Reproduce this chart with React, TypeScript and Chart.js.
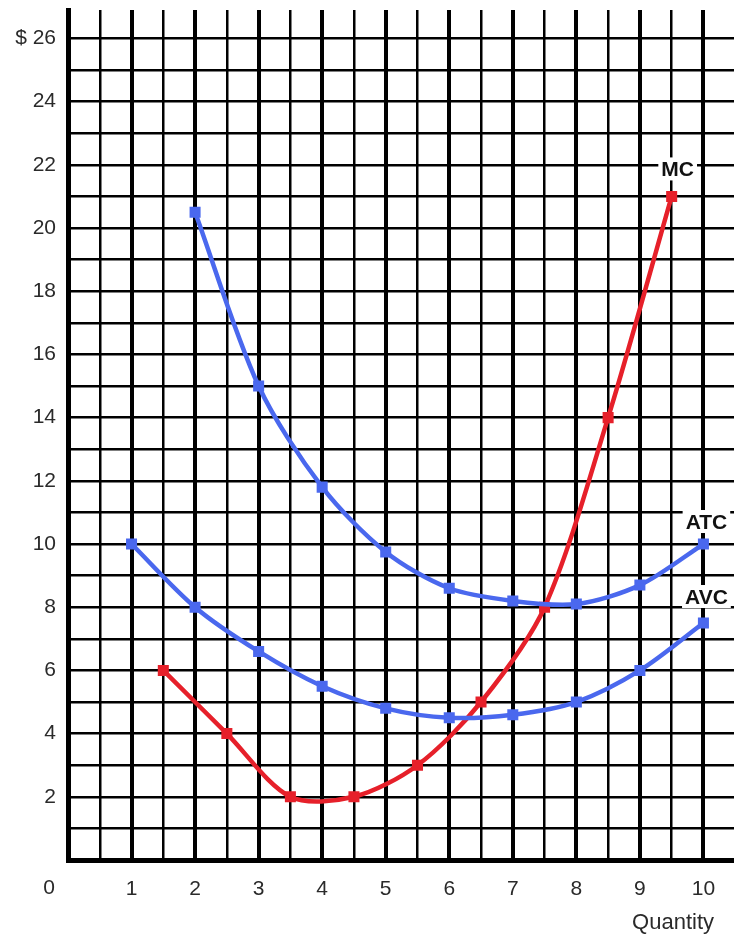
import React, { useEffect, useRef } from "react";
import { Chart, registerables } from "chart.js";

Chart.register(...registerables);

// Quantities and costs
const atcQuantity = [2, 3, 4, 5, 6, 7, 8, 9, 10];
const atcCost = [20.5, 15, 11.8, 9.75, 8.6, 8.2, 8.1, 8.7, 10];

const avcQuantity = [1, 2, 3, 4, 5, 6, 7, 8, 9, 10];
const avcCost = [10, 8, 6.6, 5.5, 4.8, 4.5, 4.6, 5, 6, 7.5];

const mcQuantity = [1.5, 2.5, 3.5, 4.5, 5.5, 6.5, 7.5, 8.5, 9.5];
const mcCost = [6, 4, 2, 2, 3, 5, 8, 14, 21];

const xTickValues = [1, 2, 3, 4, 5, 6, 7, 8, 9, 10];
const xTickText = ["1", "2", "3", "4", "5", "6", "7", "8", "9", "10"];
const yTickValues = [2, 4, 6, 8, 10, 12, 14, 16, 18, 20, 22, 24, 26];
const yTickText = ["2", "4", "6", "8", "10", "12", "14", "16", "18", "20", "22", "24", "$ 26"];
const originLabel = "0";
const xAxisTitle = "Quantity";
const seriesNames = ["MC", "ATC", "AVC"];

const BLUE = "#4A68EE";
const RED = "#E6202A";
const FONT = "'Liberation Sans', Arial, sans-serif";

const toPoints = (xs: number[], ys: number[]) => xs.map((x, i) => ({ x, y: ys[i] }));

export default function App() {
  const ref = useRef<HTMLCanvasElement | null>(null);

  useEffect(() => {
    if (!ref.current) return;

    const labelsPlugin = {
      id: "curveLabels",
      afterDatasetsDraw(chart: any) {
        const ctx = chart.ctx;
        const xs = chart.scales.x;
        const ys = chart.scales.y;
        ctx.save();
        // origin label
        ctx.font = `21px ${FONT}`;
        ctx.fillStyle = "#2a2a2a";
        ctx.textAlign = "center";
        ctx.textBaseline = "middle";
        ctx.fillText(originLabel, xs.getPixelForValue(0) - 19, ys.bottom + 28);
        // axis title
        ctx.font = `22px ${FONT}`;
        ctx.textAlign = "right";
        ctx.textBaseline = "alphabetic";
        ctx.fillText(xAxisTitle, 714, ys.bottom + 69);
        // curve labels
        const ends = [
          { name: seriesNames[0], q: mcQuantity[mcQuantity.length - 1], c: mcCost[mcCost.length - 1], dx: 6, dy: -27 },
          { name: seriesNames[1], q: atcQuantity[atcQuantity.length - 1], c: atcCost[atcCost.length - 1], dx: 3, dy: -22 },
          { name: seriesNames[2], q: avcQuantity[avcQuantity.length - 1], c: avcCost[avcCost.length - 1], dx: 3, dy: -26 },
        ];
        ctx.font = `bold 21px ${FONT}`;
        ctx.textAlign = "center";
        ctx.textBaseline = "middle";
        ends.forEach((e) => {
          const px = xs.getPixelForValue(e.q) + e.dx;
          const py = ys.getPixelForValue(e.c) + e.dy;
          const w = ctx.measureText(e.name).width;
          ctx.fillStyle = "#fff";
          ctx.fillRect(px - w / 2 - 3, py - 12, w + 6, 23);
          ctx.fillStyle = "#111";
          ctx.fillText(e.name, px, py + 1);
        });
        ctx.restore();
      },
    };

    const ds = (label: string, xs: number[], ys: number[], color: string) => ({
      label,
      data: toPoints(xs, ys),
      borderColor: color,
      backgroundColor: color,
      borderWidth: 4.5,
      pointStyle: "rect",
      pointRadius: 7.8,
      pointBorderWidth: 0,
      tension: 0.3,
    });

    const chart = new Chart(ref.current, {
      type: "line",
      data: {
        datasets: [
          ds(seriesNames[1], atcQuantity, atcCost, BLUE),
          ds(seriesNames[2], avcQuantity, avcCost, BLUE),
          ds(seriesNames[0], mcQuantity, mcCost, RED),
        ],
      },
      options: {
        responsive: false,
        animation: false,
        layout: { padding: { top: 10, right: 0, left: 0, bottom: 0 } },
        plugins: {
          legend: { display: false },
          tooltip: { enabled: false },
        },
        scales: {
          x: {
            type: "linear",
            min: 0,
            max: 10.5,
            afterFit: (s: any) => {
              s.height = 79;
              s.paddingLeft = 0;
              s.paddingRight = 0;
            },
            afterBuildTicks: (s: any) => {
              const t: any[] = [];
              for (let v = 0; v <= 10.5; v += 0.5) t.push({ value: v });
              s.ticks = t;
            },
            ticks: {
              autoSkip: false,
              maxRotation: 0,
              padding: 17,
              color: "#2a2a2a",
              font: { size: 21, family: FONT },
              callback: (v: any) => {
                const i = xTickValues.indexOf(Number(v));
                return i >= 0 ? xTickText[i] : "";
              },
            },
            grid: {
              color: "#000",
              drawTicks: false,
              lineWidth: (c: any) => {
                const v = c.tick ? c.tick.value : 0;
                return Number.isInteger(v) ? 4 : 2.5;
              },
            },
            border: { display: true, color: "#000", width: 5 },
          },
          y: {
            type: "linear",
            min: 0,
            max: 26.9,
            afterFit: (s: any) => {
              s.width = 68;
              s.paddingTop = 0;
              s.paddingBottom = 0;
            },
            ticks: {
              stepSize: 1,
              includeBounds: false,
              autoSkip: false,
              padding: 12,
              color: "#2a2a2a",
              font: { size: 21, family: FONT },
              callback: (v: any) => {
                const i = yTickValues.indexOf(Number(v));
                return i >= 0 ? yTickText[i] : "";
              },
            },
            grid: {
              color: "#000",
              drawTicks: false,
              lineWidth: 2.5,
            },
            border: { display: true, color: "#000", width: 5 },
          },
        },
      },
      plugins: [labelsPlugin],
    } as any);

    return () => chart.destroy();
  }, []);

  return (
    <div
      style={{
        position: "absolute",
        left: 0,
        top: 0,
        width: 734,
        height: 939,
        overflow: "hidden",
        background: "#fff",
      }}
    >
      <canvas ref={ref} width={743} height={939} />
    </div>
  );
}
